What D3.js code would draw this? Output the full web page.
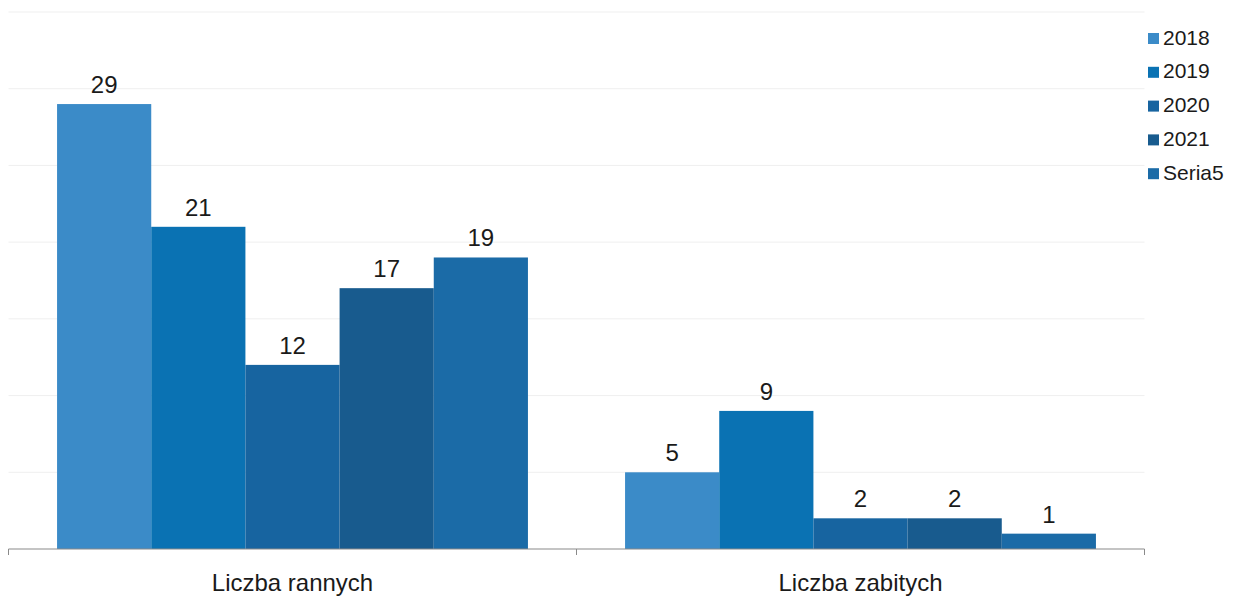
<!DOCTYPE html>
<html>
<head>
<meta charset="utf-8">
<script src="https://cdn.jsdelivr.net/npm/d3@7"></script>
<style>
  body { margin: 0; background: #fff; }
  text { font-family: "Liberation Sans", Arial, sans-serif; }
</style>
</head>
<body>
<div id="chart"></div>
<script>
const categories = ["Liczba rannych", "Liczba zabitych"];
const seriesNames = ["2018", "2019", "2020", "2021", "Seria5"];
const seriesValues = [
    [29, 5],
    [21, 9],
    [12, 2],
    [17, 2],
    [19, 1]
];
const gridTicks = [0, 5, 10, 15, 20, 25, 30, 35];
const colors = ["#3b8bc8", "#0a72b3", "#1764a0", "#185b8e", "#1b6ba7"];

const width = 1255, height = 598;
const plot = { left: 8.5, right: 1144.5, top: 12, bottom: 549 };

const svg = d3.select("#chart").append("svg")
    .attr("width", width)
    .attr("height", height);

const x0 = d3.scaleBand()
    .domain(categories)
    .range([plot.left, plot.right])
    .paddingInner(0.171)
    .paddingOuter(0.0855);

const x1 = d3.scaleBand()
    .domain(seriesNames)
    .range([0, x0.bandwidth()]);

const yScale = d3.scaleLinear().domain([0, 35]).range([plot.bottom, plot.top]);

// grid lines
svg.selectAll(".grid")
    .data(gridTicks.filter(d => d > 0))
    .enter().append("line")
    .attr("class", "grid")
    .attr("x1", plot.left)
    .attr("x2", plot.right)
    .attr("y1", d => yScale(d))
    .attr("y2", d => yScale(d))
    .attr("stroke", "#efefef")
    .attr("stroke-width", 1);

const groups = svg.selectAll(".group")
    .data(categories)
    .enter().append("g")
    .attr("class", "group")
    .attr("transform", d => `translate(${x0(d)},0)`);

groups.selectAll("rect")
    .data((c, ci) => seriesNames.map((s, si) => ({ s, si, v: seriesValues[si][ci] })))
    .enter().append("rect")
    .attr("x", d => x1(d.s))
    .attr("y", d => yScale(d.v))
    .attr("width", x1.bandwidth())
    .attr("height", d => yScale(0) - yScale(d.v))
    .attr("fill", d => colors[d.si]);

groups.selectAll(".value")
    .data((c, ci) => seriesNames.map((s, si) => ({ s, si, v: seriesValues[si][ci] })))
    .enter().append("text")
    .attr("class", "value")
    .attr("x", d => x1(d.s) + x1.bandwidth() / 2)
    .attr("y", d => yScale(d.v) - 11)
    .attr("text-anchor", "middle")
    .attr("font-size", "24px")
    .attr("fill", "#1a1a1a")
    .text(d => d.v);

// x axis
const xAxis = svg.append("g")
    .attr("transform", `translate(0,${plot.bottom})`);
xAxis.append("line")
    .attr("x1", plot.left)
    .attr("x2", plot.right)
    .attr("stroke", "#8a8a8a")
    .attr("stroke-width", 1.2);
xAxis.selectAll(".tick")
    .data([plot.left, (x0(categories[0]) + x0.bandwidth() + x0(categories[1])) / 2, plot.right])
    .enter().append("line")
    .attr("x1", d => d)
    .attr("x2", d => d)
    .attr("y1", 0)
    .attr("y2", 6)
    .attr("stroke", "#8a8a8a");
xAxis.selectAll(".catLabel")
    .data(categories)
    .enter().append("text")
    .attr("class", "catLabel")
    .attr("x", d => x0(d) + x0.bandwidth() / 2)
    .attr("y", 42)
    .attr("text-anchor", "middle")
    .attr("font-size", "24px")
    .attr("fill", "#1a1a1a")
    .text(d => d);

// legend
const legend = svg.selectAll(".legend")
    .data(seriesNames)
    .enter().append("g")
    .attr("class", "legend")
    .attr("transform", (d, i) => `translate(1148,${39 + i * 33.8})`);
legend.append("rect")
    .attr("x", 0)
    .attr("y", -6)
    .attr("width", 11)
    .attr("height", 11)
    .attr("fill", (d, i) => colors[i]);
legend.append("text")
    .attr("x", 15)
    .attr("y", 0)
    .attr("dominant-baseline", "middle")
    .attr("font-size", "21px")
    .attr("fill", "#1a1a1a")
    .text(d => d);
</script>
</body>
</html>
